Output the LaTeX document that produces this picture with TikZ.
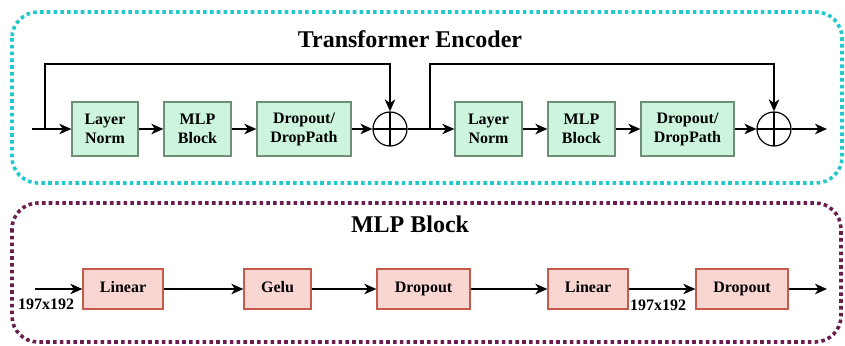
\documentclass[tikz,border=0pt]{standalone}
\usepackage{fontspec}
\setmainfont{Liberation Serif}
\usetikzlibrary{arrows.meta,positioning}
\definecolor{cyanb}{HTML}{22C9CC}
\definecolor{purpb}{HTML}{6A1E4E}
\definecolor{gfill}{HTML}{CDF5DE}
\definecolor{gdraw}{HTML}{6C8F76}
\definecolor{pfill}{HTML}{F9D6D1}
\definecolor{pdraw}{HTML}{C65A4B}
\tikzset{
  every node/.style={font=\bfseries\fontsize{16}{19}\selectfont},
  gbox/.style={draw=gdraw,fill=gfill,line width=1.3pt,align=center,inner sep=0pt,minimum height=54pt},
  pbox/.style={draw=pdraw,fill=pfill,line width=1.3pt,inner sep=0pt,minimum height=40pt,text height=11pt,text depth=3.5pt},
  addc/.style={circle,draw,line width=1.2pt,minimum size=34pt,inner sep=0pt,
    path picture={\draw[line width=1.2pt] (path picture bounding box.north) -- (path picture bounding box.south)
      (path picture bounding box.west) -- (path picture bounding box.east);}},
  conn/.style={line width=1.3pt,-{Stealth[length=12pt,width=10.5pt,inset=3.5pt]}},
  panel/.style={rounded corners=26pt,line width=3.6pt,dash pattern=on 3.6pt off 3.2pt},
  ttl/.style={font=\bfseries\fontsize{24}{26}\selectfont}
}
\begin{document}
\begin{tikzpicture}[x=1pt,y=-1pt]
\useasboundingbox (0,0) rectangle (845,345);
% panels
\draw[panel,draw=cyanb] (12,12) rectangle (842,183);
\draw[panel,draw=purpb] (12,203) rectangle (841,342);
\node[ttl] (t1) at (410,39) {Transformer Encoder};
\node[ttl] (t2) at (410,224) {MLP Block};
% top row
\coordinate (in1) at (32,129);
\coordinate (b1) at (45,129);
\coordinate (s1) at (45,64);
\node[gbox,minimum width=66pt] (ln1) at (105,129) {Layer\\Norm};
\node[gbox,minimum width=67pt] (mlp1) at (197.5,129) {MLP\\Block};
\node[gbox,minimum width=94pt] (dp1) at (304,129) {Dropout/\\DropPath};
\node[addc] (p1) at (390,129) {};
\coordinate (b2) at (430,129);
\coordinate (s2) at (430,64);
\node[gbox,minimum width=67pt] (ln2) at (488.5,129) {Layer\\Norm};
\node[gbox,minimum width=67pt] (mlp2) at (581.5,129) {MLP\\Block};
\node[gbox,minimum width=93pt] (dp2) at (687.5,129) {Dropout/\\DropPath};
\node[addc] (p2) at (774,129) {};
\coordinate (out1) at (827,129);
\draw[conn] (in1) -- (ln1);
\draw[conn] (b1) -- (s1) -| (p1.north);
\draw[conn] (ln1) -- (mlp1);
\draw[conn] (mlp1) -- (dp1);
\draw[conn] (dp1) -- (p1);
\draw[conn] (p1) -- (ln2);
\draw[conn] (b2) -- (s2) -| (p2.north);
\draw[conn] (ln2) -- (mlp2);
\draw[conn] (mlp2) -- (dp2);
\draw[conn] (dp2) -- (p2);
\draw[conn] (p2) -- (out1);
% bottom row
\coordinate (in2) at (35,289);
\node[pbox,minimum width=80pt] (lin1) at (123,289) {Linear};
\node[pbox,minimum width=67pt] (gelu) at (277.5,289) {Gelu};
\node[pbox,minimum width=93pt] (do1) at (423.5,289) {Dropout};
\node[pbox,minimum width=80pt] (lin2) at (588,289) {Linear};
\node[pbox,minimum width=92pt] (do2) at (742,289) {Dropout};
\coordinate (out2) at (827,289);
\node (l1) at (46,304) {197x192};
\node (l2) at (658,305) {197x192};
\draw[conn] (in2) -- (lin1);
\draw[conn] (lin1) -- (gelu);
\draw[conn] (gelu) -- (do1);
\draw[conn] (do1) -- (lin2);
\draw[conn] (lin2) -- (do2);
\draw[conn] (do2) -- (out2);
\end{tikzpicture}
\end{document}
